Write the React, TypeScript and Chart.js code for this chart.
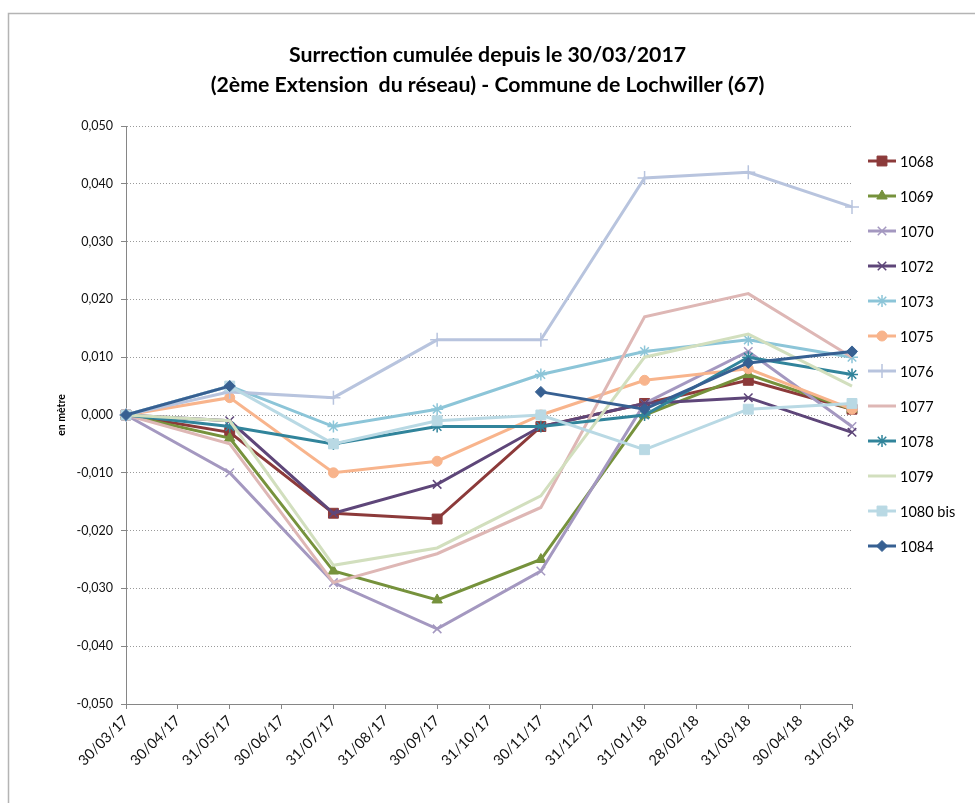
import React, { useEffect, useRef } from 'react';
import { Chart, registerables } from 'chart.js';
import { drawPoint } from 'chart.js/helpers';

Chart.register(...registerables);

// X axis tick labels (monthly)
const tickLabels = [
  '30/03/17', '30/04/17', '31/05/17', '30/06/17', '31/07/17', '31/08/17', '30/09/17',
  '31/10/17', '30/11/17', '31/12/17', '31/01/18', '28/02/18', '31/03/18', '30/04/18', '31/05/18',
];

// Survey dates
const measureDates = ['30/03/17', '31/05/17', '31/07/17', '30/09/17', '30/11/17', '31/01/18', '31/03/18', '31/05/18'];

// Series values (m)
const s1068 = [0, -0.003, -0.017, -0.018, -0.002, 0.002, 0.006, 0.001];
const s1069 = [0, -0.004, -0.027, -0.032, -0.025, 0.0, 0.007, 0.001];
const s1070 = [0, -0.010, -0.029, -0.037, -0.027, 0.002, 0.011, -0.002];
const s1072 = [0, -0.001, -0.017, -0.012, -0.002, 0.002, 0.003, -0.003];
const s1073 = [0, 0.005, -0.002, 0.001, 0.007, 0.011, 0.013, 0.010];
const s1075 = [0, 0.003, -0.010, -0.008, 0.0, 0.006, 0.008, 0.001];
const s1076 = [0, 0.004, 0.003, 0.013, 0.013, 0.041, 0.042, 0.036];
const s1077 = [0, -0.005, -0.029, -0.024, -0.016, 0.017, 0.021, 0.010];
const s1078 = [0, -0.002, -0.005, -0.002, -0.002, 0.0, 0.010, 0.007];
const s1079 = [0, -0.001, -0.026, -0.023, -0.014, 0.010, 0.014, 0.005];
const s1080bis = [0, 0.005, -0.005, -0.001, 0.0, -0.006, 0.001, 0.002];
const s1084 = [0, 0.005, null, null, 0.004, 0.001, 0.009, 0.011];

const seriesNames = ['1068', '1069', '1070', '1072', '1073', '1075', '1076', '1077', '1078', '1079', '1080 bis', '1084'];
const seriesValues: (number | null)[][] = [s1068, s1069, s1070, s1072, s1073, s1075, s1076, s1077, s1078, s1079, s1080bis, s1084];

const colors = ['#8C3A3A', '#76923C', '#A498C0', '#5E4679', '#8CC5D8', '#F8B48C', '#B8C4DE', '#DEB7B5', '#31849B', '#D2DFBE', '#B9D9E4', '#376092'];
const pointStyles: (string | false)[] = ['rect', 'triangle', 'crossRot', 'crossRot', 'star', 'circle', 'cross', false, 'star', false, 'rect', 'rectRot'];
const pointRadii = [7, 6, 6, 6, 6, 5, 7, 0, 6, 0, 7, 5.5];
const filled = [true, true, false, false, false, true, false, false, false, false, true, true];

const FONT = 'Lato, "Liberation Sans", sans-serif';

export default function App() {
  const ref = useRef<HTMLCanvasElement>(null);

  useEffect(() => {
    const canvas = ref.current;
    if (!canvas) return;

    const datasets = seriesNames.map((name, i) => {
      const data: { x: string; y: number }[] = [];
      seriesValues[i].forEach((v, j) => {
        if (v !== null) data.push({ x: measureDates[j], y: v });
      });
      return {
        label: name,
        data,
        borderColor: colors[i],
        backgroundColor: colors[i],
        borderWidth: 3,
        pointStyle: pointStyles[i] || 'circle',
        pointRadius: pointStyles[i] ? pointRadii[i] : 0,
        pointBackgroundColor: filled[i] ? colors[i] : 'rgba(0,0,0,0)',
        pointBorderColor: colors[i],
        pointBorderWidth: filled[i] ? 1 : 1.5,
        spanGaps: 2,
        tension: 0,
        order: 20 - i,
      };
    });

    const framePlugin = {
      id: 'frame',
      beforeDraw(chart: any) {
        const c = chart.ctx;
        c.save();
        c.fillStyle = '#ffffff';
        c.fillRect(0, 0, chart.width, chart.height);
        c.strokeStyle = '#b4b4b4';
        c.lineWidth = 1.5;
        c.beginPath();
        c.moveTo(8.5, chart.height);
        c.lineTo(8.5, 13.5);
        c.lineTo(chart.width, 13.5);
        c.stroke();
        c.restore();
      },
    };

    const legendPlugin = {
      id: 'customLegend',
      afterDraw(chart: any) {
        const c = chart.ctx;
        c.save();
        const x0 = 868;
        const x1 = 896;
        const yStart = 161;
        const step = 35;
        chart.data.datasets.forEach((ds: any, i: number) => {
          const y = yStart + i * step;
          c.strokeStyle = colors[i];
          c.lineWidth = 3;
          c.beginPath();
          c.moveTo(x0, y);
          c.lineTo(x1, y);
          c.stroke();
          if (pointStyles[i]) {
            c.fillStyle = filled[i] ? colors[i] : 'rgba(0,0,0,0)';
            c.strokeStyle = colors[i];
            c.lineWidth = filled[i] ? 1 : 1.5;
            drawPoint(c, { pointStyle: pointStyles[i], radius: pointRadii[i], rotation: 0, borderWidth: c.lineWidth }, (x0 + x1) / 2, y);
          }
          c.fillStyle = '#000';
          c.font = `14.5px ${FONT}`;
          c.textAlign = 'left';
          c.textBaseline = 'middle';
          c.fillText(ds.label, 900, y + 1);
        });
        c.restore();
      },
    };

    const chart = new Chart(canvas, {
      type: 'line',
      data: { labels: tickLabels, datasets: datasets as any },
      plugins: [framePlugin, legendPlugin],
      options: {
        responsive: false,
        maintainAspectRatio: false,
        animation: false,
        events: [],
        layout: { padding: 0 },
        plugins: {
          legend: { display: false },
          tooltip: { enabled: false },
          title: {
            display: true,
            text: ['Surrection cumulée depuis le 30/03/2017', '(2ème Extension  du réseau) - Commune de Lochwiller (67)'],
            color: '#000',
            font: { family: FONT, size: 21.3, weight: 'bold', lineHeight: 30 / 21.3 },
            padding: { top: 40, bottom: 26 },
          },
        },
        scales: {
          x: {
            type: 'category',
            offset: false,
            grid: { display: true, drawOnChartArea: false, drawTicks: true, tickLength: 5, color: '#868686', lineWidth: 1 },
            border: { display: true, color: '#868686', width: 1 },
            ticks: {
              autoSkip: false,
              maxRotation: 45,
              minRotation: 45,
              padding: 3,
              color: '#111',
              font: { family: FONT, size: 14.5 },
            },
            afterFit(scale: any) {
              scale.height = 99;
            },
          },
          y: {
            type: 'linear',
            position: 'left',
            min: -0.05,
            max: 0.05,
            grid: { color: '#9a9a9a', lineWidth: 1, tickLength: 5, tickColor: '#868686', tickBorderDash: [] },
            border: { display: true, color: '#868686', width: 1, dash: [1, 2] },
            ticks: {
              stepSize: 0.01,
              padding: 8,
              color: '#111',
              font: { family: FONT, size: 12.5 },
              callback: (v: any) => {
                let n = Number(v);
                if (Math.abs(n) < 1e-9) n = 0;
                return n.toFixed(3).replace('.', ',');
              },
            },
            title: {
              display: true,
              text: 'en mètre',
              color: '#000',
              font: { family: FONT, size: 10.5, weight: 'bold' },
              padding: { top: 55, bottom: 0 },
            },
            afterFit(scale: any) {
              scale.width = 126;
            },
          },
          yRight: {
            type: 'linear',
            position: 'right',
            display: true,
            grid: { display: false, drawTicks: false },
            border: { display: false },
            ticks: { display: false },
            afterFit(scale: any) {
              scale.width = 123;
            },
          },
        },
      } as any,
    });

    return () => {
      chart.destroy();
    };
  }, []);

  return (
    <div style={{ position: 'absolute', left: 0, top: 0, width: 975, height: 803 }}>
      <canvas ref={ref} width={975} height={803} style={{ display: 'block' }} />
    </div>
  );
}
